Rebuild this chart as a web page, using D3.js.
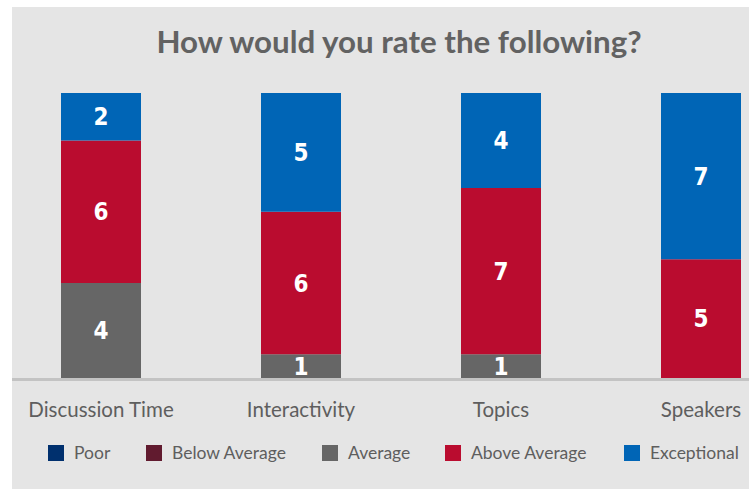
<!DOCTYPE html>
<html>
<head>
<meta charset="utf-8">
<script src="https://cdn.jsdelivr.net/npm/d3@7"></script>
<style>
  body { margin: 0; background: #ffffff; }
  svg { display: block; }
</style>
</head>
<body>
<div id="chart"></div>
<script>
var width = 749,
    height = 489;

// data
var categories = ["Discussion Time", "Interactivity", "Topics", "Speakers"];
var ratings = ["Poor", "Below Average", "Average", "Above Average", "Exceptional"];
var poor = [0, 0, 0, 0];
var belowAverage = [0, 0, 0, 0];
var average = [4, 1, 1, 0];
var aboveAverage = [6, 6, 7, 5];
var exceptional = [2, 5, 4, 7];
var colors = ["#00306e", "#611b2f", "#666666", "#ba0c2f", "#0065b6"];

var seriesValues = [poor, belowAverage, average, aboveAverage, exceptional];

let rows = categories.map((c, i) => {
    let row = {name: c};
    ratings.forEach((r, j) => { row[r] = seriesValues[j][i]; });
    return row;
});

let stacked = d3.stack().keys(ratings)(rows);

let svg = d3.select("#chart")
    .append("svg")
    .attr("width", width)
    .attr("height", height);

// gray panel
svg.append("rect")
    .attr("x", 12)
    .attr("y", 7)
    .attr("width", width - 12)
    .attr("height", height - 7)
    .attr("fill", "#e5e5e5");

let x = d3.scaleBand()
    .domain(categories)
    .range([1, 801])
    .paddingInner(0.6)
    .paddingOuter(0.3);

let y = d3.scaleLinear()
    .domain([0, 12])
    .range([378, 93]);

// title
svg.append("text")
    .attr("x", 399)
    .attr("y", 53)
    .attr("text-anchor", "middle")
    .attr("font-family", "Lato, 'Open Sans', sans-serif")
    .attr("font-weight", "bold")
    .attr("font-size", 31.3)
    .attr("fill", "#626262")
    .text("How would you rate the following?");

// bars
let layers = svg.append("g")
    .selectAll("g")
    .data(stacked)
    .join("g")
    .attr("fill", (d, i) => colors[i]);

layers.selectAll("rect")
    .data(d => d)
    .join("rect")
    .attr("x", d => x(d.data.name))
    .attr("width", x.bandwidth())
    .attr("y", d => y(d[1]))
    .attr("height", d => y(d[0]) - y(d[1]));

// value labels
layers.selectAll("text")
    .data(d => d.filter(s => s[1] - s[0] > 0))
    .join("text")
    .attr("x", d => x(d.data.name) + x.bandwidth() / 2)
    .attr("y", d => (y(d[0]) + y(d[1])) / 2)
    .attr("dy", "0.36em")
    .attr("text-anchor", "middle")
    .attr("font-family", "'Liberation Sans Narrow', 'DejaVu Sans Condensed', sans-serif")
    .attr("font-weight", "bold")
    .attr("font-size", 24)
    .attr("fill", "#ffffff")
    .text(d => d[1] - d[0]);

// x axis line and labels
let xAxis = svg.append("g")
    .attr("transform", `translate(0, ${y(0)})`)
    .call(d3.axisBottom(x).tickSize(0).tickPadding(24));

xAxis.select(".domain").remove();
xAxis.insert("line", ":first-child")
    .attr("x1", 12)
    .attr("x2", width)
    .attr("y1", 1.5)
    .attr("y2", 1.5)
    .attr("stroke", "#c3c3c3")
    .attr("stroke-width", 3);

xAxis.selectAll("text")
    .attr("font-family", "Lato, 'Open Sans', sans-serif")
    .attr("font-size", 20.5)
    .attr("fill", "#5e5e5e");

// legend
let legendX = [48, 146, 322, 445, 624];
let legend = svg.append("g")
    .selectAll("g")
    .data(ratings)
    .join("g")
    .attr("transform", (d, i) => `translate(${legendX[i]}, 445)`);

legend.append("rect")
    .attr("width", 16)
    .attr("height", 16)
    .attr("fill", (d, i) => colors[i]);

legend.append("text")
    .attr("x", 26)
    .attr("y", 14)
    .attr("font-family", "Lato, 'Open Sans', sans-serif")
    .attr("font-size", 17.5)
    .attr("fill", "#5e5e5e")
    .text(d => d);
</script>
</body>
</html>
